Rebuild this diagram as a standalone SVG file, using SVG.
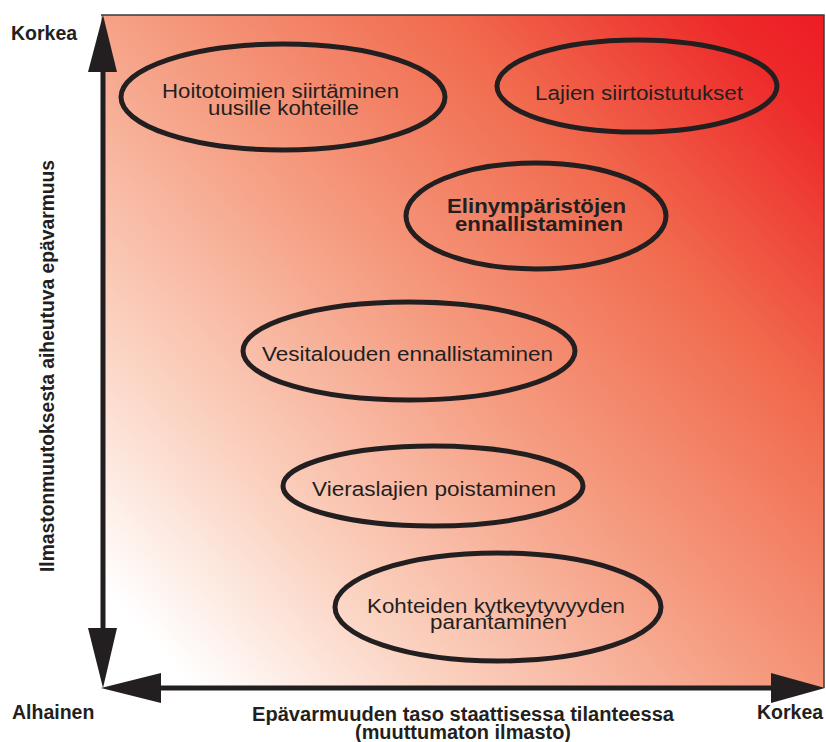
<svg xmlns="http://www.w3.org/2000/svg" width="826" height="742" viewBox="0 0 826 742">
<defs>
<linearGradient id="bg" gradientUnits="userSpaceOnUse" x1="101" y1="688" x2="824" y2="15">
<stop offset="0" stop-color="#FFFFFF"/>
<stop offset="0.07" stop-color="#FFFFFF"/>
<stop offset="0.25" stop-color="#FBD3C2"/>
<stop offset="0.5" stop-color="#F59A7E"/>
<stop offset="0.72" stop-color="#F16A4E"/>
<stop offset="0.92" stop-color="#ED2A2A"/>
<stop offset="1" stop-color="#ED1C24"/>
</linearGradient>
<style>
.ell{fill:none;stroke:#231F20;stroke-width:5}
.t{font-family:"Liberation Sans",Arial,sans-serif;font-size:20.5px;fill:#231F20;text-anchor:middle}
.b{font-weight:bold;font-size:20px}
.lab{font-family:"Liberation Sans",Arial,sans-serif;font-weight:bold;font-size:19.5px;fill:#231F20}
.axis{stroke:#231F20;stroke-width:5;fill:none}
.head{fill:#231F20}
</style>
</defs>
<rect x="101" y="15" width="723" height="673" fill="url(#bg)"/>
<path d="M101 15 H824 V688" fill="none" stroke="#3A3A3A" stroke-width="1.5"/>
<g id="connectors">
<line class="axis" x1="103" y1="70" x2="103" y2="630"/>
<line class="axis" x1="160" y1="688" x2="772" y2="688"/>
<polygon class="head" points="103,15 117,72 88,72"/>
<polygon class="head" points="103,688 88,628 117,628"/>
<polygon class="head" points="101,688 161,673 161,703"/>
<polygon class="head" points="825,688 771,673 771,703"/>
</g>
<g id="n1">
<ellipse class="ell" cx="283" cy="97" rx="162" ry="53"/>
<text class="t" x="280.5" y="98" textLength="237" lengthAdjust="spacingAndGlyphs">Hoitotoimien siirtäminen</text>
<text class="t" x="283.5" y="115" textLength="151" lengthAdjust="spacingAndGlyphs">uusille kohteille</text>
</g>
<g id="n2">
<ellipse class="ell" cx="637" cy="86" rx="140" ry="46"/>
<text class="t" x="639" y="100" textLength="208" lengthAdjust="spacingAndGlyphs">Lajien siirtoistutukset</text>
</g>
<g id="n3">
<ellipse class="ell" cx="536" cy="216" rx="130" ry="53"/>
<text class="t b" x="536.5" y="213" textLength="179" lengthAdjust="spacingAndGlyphs">Elinympäristöjen</text>
<text class="t b" x="539" y="231" textLength="168" lengthAdjust="spacingAndGlyphs">ennallistaminen</text>
</g>
<g id="n4">
<ellipse class="ell" cx="409" cy="351" rx="166" ry="49"/>
<text class="t" x="407.5" y="361" textLength="291" lengthAdjust="spacingAndGlyphs">Vesitalouden ennallistaminen</text>
</g>
<g id="n5">
<ellipse class="ell" cx="433" cy="486" rx="150" ry="40"/>
<text class="t" x="434" y="496" textLength="244" lengthAdjust="spacingAndGlyphs">Vieraslajien poistaminen</text>
</g>
<g id="n6">
<ellipse class="ell" cx="498" cy="607" rx="163" ry="54"/>
<text class="t" x="496" y="613" textLength="258" lengthAdjust="spacingAndGlyphs">Kohteiden kytkeytyvyyden</text>
<text class="t" x="498.5" y="629" textLength="137" lengthAdjust="spacingAndGlyphs">parantaminen</text>
</g>
<g id="labels">
<text class="lab" x="11" y="40">Korkea</text>
<text class="lab" x="12" y="719">Alhainen</text>
<text class="lab" x="757" y="719">Korkea</text>
<text class="lab" x="463" y="721" text-anchor="middle" font-size="19" textLength="422" lengthAdjust="spacingAndGlyphs">Epävarmuuden taso staattisessa tilanteessa</text>
<text class="lab" x="463" y="739" text-anchor="middle" font-size="18" textLength="216" lengthAdjust="spacingAndGlyphs">(muuttumaton ilmasto)</text>
<text class="lab" transform="translate(54,366) rotate(-90)" text-anchor="middle" font-size="19" textLength="412" lengthAdjust="spacingAndGlyphs">Ilmastonmuutoksesta aiheutuva epävarmuus</text>
</g>
</svg>
